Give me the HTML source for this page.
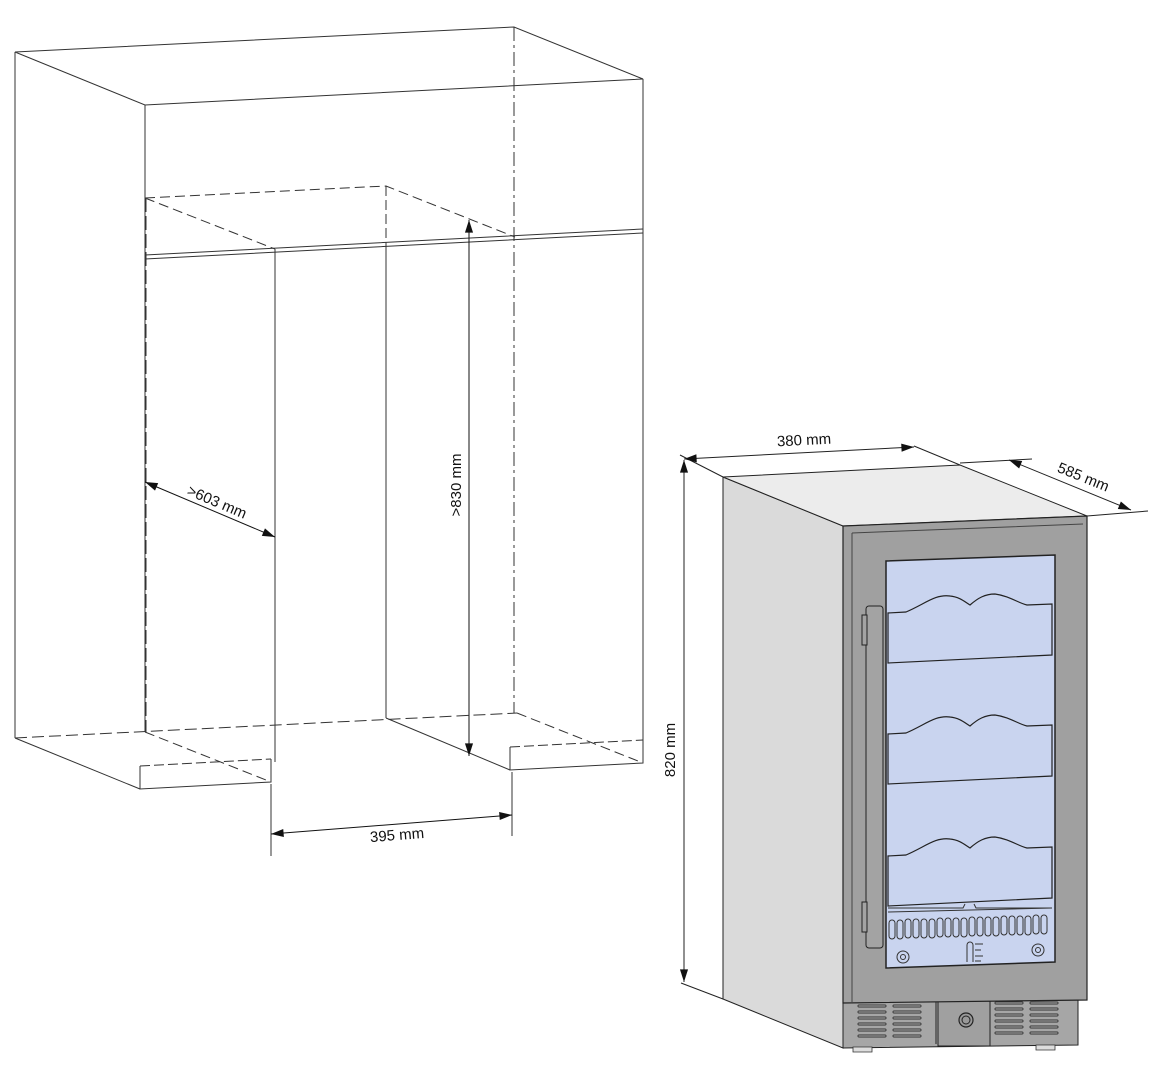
<!DOCTYPE html>
<html><head><meta charset="utf-8"><style>
html,body{margin:0;padding:0;background:#fff;}
svg{display:block;}
text{font-family:"Liberation Sans",Arial,sans-serif;font-size:15px;fill:#111;}
</style></head><body>
<svg width="1166" height="1079" viewBox="0 0 1166 1079" xmlns="http://www.w3.org/2000/svg">
<defs>
<marker id="ar" viewBox="0 0 14 10" refX="14" refY="5" markerWidth="14" markerHeight="9" orient="auto-start-reverse" markerUnits="userSpaceOnUse"><path d="M0,0.5 L14,5 L0,9.5 z" fill="#111"/></marker>
<g id="shelf">
<path d="M888,613 L906,612 C925,604 935,594 950,596 C960,597 965,602 970,605 C978,598 985,594 995,594 C1010,596 1018,603 1027,605 L1052,604 L1052,655 L888,663 Z" fill="#c9d4ef" stroke="#222" stroke-width="1.2"/>
</g>
<g id="grill">
<path d="M0,0h26M0,6h26M0,12h26M0,18h26M0,24h26M0,30h26" stroke="#333" stroke-width="3" stroke-linecap="round"/>
<path d="M0,0h26M0,6h26M0,12h26M0,18h26M0,24h26M0,30h26" stroke="#9a9a9a" stroke-width="1.3" stroke-linecap="round"/>
</g>
</defs>
<g fill="none" stroke="#333" stroke-width="1">
<path d="M15,52 L514,27 L643,79 L145,105 Z"/>
<path d="M15,52 V738"/>
<path d="M145,105 V732"/>
<path d="M643,79 V740"/>
<path d="M514,27 V713" stroke-dasharray="14,4,3,4"/>
<path d="M145,255 L643,229 M145,259 L643,233 M145,255 V259"/>
<path d="M145,198 L386,186 L515,237 M145,198 L275,249" stroke-dasharray="10,5"/>
<path d="M386,186 V243" stroke-dasharray="10,4"/>
<path d="M386,243 V718"/>
<path d="M275,249 V762"/>
<path d="M146,198 V732" stroke-dasharray="14,4"/>
<path d="M15,738 L517,713" stroke-dasharray="12,5"/>
<path d="M15,738 L140,789"/>
<path d="M140,766 V789 L271,782 V759"/>
<path d="M140,766 L271,759" stroke-dasharray="10,4"/>
<path d="M145,732 L271,782" stroke-dasharray="10,5"/>
<path d="M386,718 L510,770"/>
<path d="M510,747 V770 L643,763 V740"/>
<path d="M510,747 L643,740" stroke-dasharray="10,4"/>
<path d="M517,713 L643,763" stroke-dasharray="10,5"/>
<path d="M271,784 V856 M512,772 V836"/>
<path d="M271,834 L512,815" marker-start="url(#ar)" marker-end="url(#ar)" stroke="#111"/>
<path d="M145,482 L275,537" marker-start="url(#ar)" marker-end="url(#ar)" stroke="#111"/>
<path d="M469,220 V756" marker-start="url(#ar)" marker-end="url(#ar)" stroke="#111"/>
</g>
<text x="397" y="840" transform="rotate(-4.5 397 835)" text-anchor="middle">395 mm</text>
<text x="217" y="507" transform="rotate(23 217 502)" text-anchor="middle">&gt;603 mm</text>
<text x="466" y="490" transform="rotate(-90 461 490)" text-anchor="middle">&gt;830 mm</text>

<path d="M723,477 L843,526 V1048 L723,999 Z" fill="#dadada" stroke="#222" stroke-width="1"/>
<path d="M723,477 L960,465 L1087,516 L843,526 Z" fill="#ececec" stroke="#222" stroke-width="1"/>
<path d="M843,1000 H1078 V1045 L843,1048 Z" fill="#a6a6a6" stroke="#222"/>
<rect x="938" y="1000" width="52" height="46" fill="#a0a0a0" stroke="#222"/>
<path d="M936,1000 V1044" stroke="#222"/>
<circle cx="966" cy="1020" r="7" fill="#999" stroke="#222" stroke-width="1.2"/>
<circle cx="966" cy="1020" r="4" fill="none" stroke="#222"/>
<use href="#grill" x="859" y="1006"/>
<use href="#grill" x="894" y="1006"/>
<use href="#grill" x="996" y="1003"/>
<use href="#grill" x="1031" y="1003"/>
<path d="M853,1047 h19 v5 h-19z M1036,1045 h19 v5 h-19z" fill="#ddd" stroke="#333" stroke-width="0.8"/>
<path d="M843,526 L1087,516 V1000 L843,1003 Z" fill="#a0a0a0" stroke="#222" stroke-width="1.2"/>
<path d="M852,533 L1083,524 M852,533 V1002" stroke="#444" fill="none"/>
<path d="M886,561 L1055,555 V962 L886,968 Z" fill="#c9d4ef" stroke="#222" stroke-width="1.5"/>
<use href="#shelf"/>
<use href="#shelf" y="121"/>
<use href="#shelf" y="243"/>
<path d="M888,912 L1052,908 M888,908 H963 L965,904 M974,904 L976,908 H1052" stroke="#333" fill="none"/>
<g fill="none" stroke="#333" stroke-width="1">
<rect x="889" y="920" width="6" height="19" rx="3"/><rect x="897" y="920" width="6" height="19" rx="3"/><rect x="905" y="919" width="6" height="19" rx="3"/><rect x="913" y="919" width="6" height="19" rx="3"/><rect x="921" y="919" width="6" height="19" rx="3"/><rect x="929" y="919" width="6" height="19" rx="3"/><rect x="937" y="918" width="6" height="19" rx="3"/><rect x="945" y="918" width="6" height="19" rx="3"/><rect x="953" y="918" width="6" height="19" rx="3"/><rect x="961" y="918" width="6" height="19" rx="3"/><rect x="969" y="917" width="6" height="19" rx="3"/><rect x="977" y="917" width="6" height="19" rx="3"/><rect x="985" y="917" width="6" height="19" rx="3"/><rect x="993" y="917" width="6" height="19" rx="3"/><rect x="1001" y="916" width="6" height="19" rx="3"/><rect x="1009" y="916" width="6" height="19" rx="3"/><rect x="1017" y="916" width="6" height="19" rx="3"/><rect x="1025" y="916" width="6" height="19" rx="3"/><rect x="1033" y="915" width="6" height="19" rx="3"/><rect x="1041" y="915" width="6" height="19" rx="3"/>
<circle cx="903" cy="957" r="6"/><circle cx="903" cy="957" r="2.5"/>
<circle cx="1038" cy="950" r="6"/><circle cx="1038" cy="950" r="2.5"/>
<path d="M967,962 V945 a3,3 0 0 1 6,0 V962 M975,944 h8 M975,950 h6 M975,956 h8 M975,961 h6"/>
</g>
<rect x="866" y="606" width="17" height="342" rx="3" fill="#a3a3a3" stroke="#222"/>
<rect x="862" y="615" width="5" height="30" fill="#a3a3a3" stroke="#222"/>
<rect x="862" y="902" width="5" height="30" fill="#a3a3a3" stroke="#222"/>
<g fill="none" stroke="#222" stroke-width="1">
<path d="M680,455 L723,477 M914,446 L960,465 M960,463 L1032,459 M1087,516 L1148,511 M681,983 L723,999"/>
<path d="M684,459 L914,447" marker-start="url(#ar)" marker-end="url(#ar)"/>
<path d="M1009,460 L1131,510" marker-start="url(#ar)" marker-end="url(#ar)"/>
<path d="M684,460 V982" marker-start="url(#ar)" marker-end="url(#ar)"/>
</g>
<text x="804" y="445" transform="rotate(-3 804 440)" text-anchor="middle">380 mm</text>
<text x="1083" y="482" transform="rotate(22 1083 478)" text-anchor="middle">585 mm</text>
<text x="680" y="755" transform="rotate(-90 675 755)" text-anchor="middle">820 mm</text>
</svg>
</body></html>
